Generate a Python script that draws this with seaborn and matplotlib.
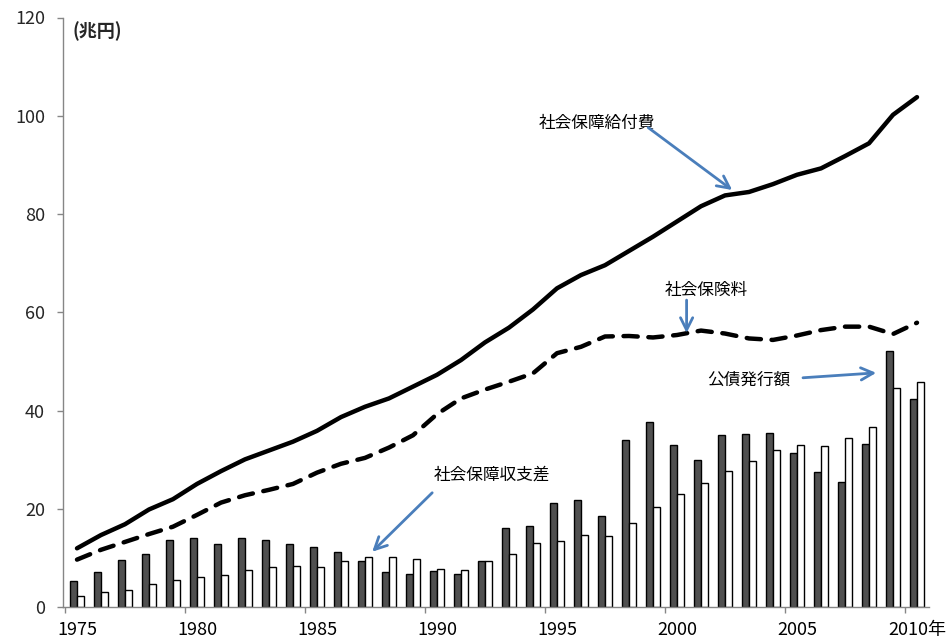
import numpy as np
import pandas as pd
import matplotlib
matplotlib.use("Agg")
import matplotlib.pyplot as plt
import seaborn as sns

years = list(range(1975, 2011))
# 社会保障給付費 (兆円)
benefits = [12.0, 14.7, 16.9, 19.9, 22.0, 25.1, 27.7, 30.1, 31.9, 33.7,
            35.9, 38.7, 40.8, 42.5, 44.9, 47.3, 50.3, 53.9, 56.9, 60.6,
            64.9, 67.6, 69.6, 72.5, 75.4, 78.5, 81.6, 83.8, 84.5, 86.1,
            88.0, 89.3, 91.8, 94.4, 100.2, 103.8]
# 社会保険料 (兆円)
contributions = [9.7, 11.7, 13.3, 14.9, 16.4, 18.8, 21.3, 22.8, 23.9, 25.1,
                 27.4, 29.2, 30.4, 32.5, 35.0, 39.3, 42.5, 44.3, 45.9, 47.6,
                 51.7, 53.0, 55.1, 55.2, 54.9, 55.4, 56.3, 55.7, 54.7, 54.4,
                 55.3, 56.4, 57.1, 57.1, 55.6, 57.9]
# 公債発行額 (兆円)
bonds = [5.3, 7.2, 9.6, 10.8, 13.6, 14.2, 12.9, 14.1, 13.6, 12.8,
         12.3, 11.3, 9.5, 7.2, 6.7, 7.3, 6.7, 9.5, 16.2, 16.5,
         21.2, 21.8, 18.6, 34.0, 37.6, 33.0, 30.0, 35.1, 35.3, 35.5,
         31.3, 27.5, 25.4, 33.3, 52.1, 42.4]
# 社会保障収支差 (兆円)
balance = [2.3, 3.2, 3.6, 4.8, 5.5, 6.2, 6.6, 7.6, 8.3, 8.5,
           8.1, 9.4, 10.2, 10.2, 9.8, 7.7, 7.6, 9.5, 10.9, 13.0,
           13.5, 14.8, 14.6, 17.1, 20.5, 23.1, 25.3, 27.7, 29.7, 32.1,
           33.1, 32.9, 34.5, 36.7, 44.6, 45.8]

label_years = [1975, 1980, 1985, 1990, 1995, 2000, 2005, 2010]
label_texts = ["1975", "1980", "1985", "1990", "1995", "2000", "2005", "2010年"]
y_ticks = [0, 20, 40, 60, 80, 100, 120]

sns.set_theme(style="white")
plt.rcParams["font.family"] = ["Noto Sans CJK JP", "DejaVu Sans"]

fig = plt.figure(figsize=(9.51, 6.44), dpi=100)
ax = fig.add_axes([63 / 951, 1 - 607.3 / 644, 866 / 951, (607.3 - 17.5) / 644])

year_str = [str(y) for y in years]
df = pd.DataFrame({
    "year": year_str * 2,
    "value": bonds + balance,
    "series": ["公債発行額"] * len(years) + ["社会保障収支差"] * len(years),
})
sns.barplot(data=df, x="year", y="value", hue="series", order=year_str,
            hue_order=["公債発行額", "社会保障収支差"],
            palette={"公債発行額": "#505050", "社会保障収支差": "white"},
            edgecolor="black", linewidth=1.0, width=0.62, legend=False,
            saturation=1, ax=ax)

pos = np.arange(len(years))
sns.lineplot(x=pos, y=benefits, color="black", linewidth=3.2,
             solid_capstyle="round", solid_joinstyle="round", ax=ax)
sns.lineplot(x=pos, y=contributions, color="black", linewidth=3.2,
             linestyle=(0, (3.2, 2.4)), dash_capstyle="round", ax=ax)

ax.set_xlim(-0.583, 35.5)
ax.set_ylim(0, 120)
ax.set_xlabel("")
ax.set_ylabel("")

major_pos = [years.index(y) for y in label_years]
ax.set_xticks(major_pos)
ax.set_xticklabels(label_texts, fontsize=13)
ax.set_xticks([p - 0.5 for p in major_pos], minor=True)
ax.tick_params(axis="x", which="major", length=0, pad=10, colors="black")
ax.tick_params(axis="x", which="minor", length=4.5, width=1, color="#868686",
               direction="out", bottom=True)
ax.set_yticks(y_ticks)
ax.set_yticklabels([str(v) for v in y_ticks], fontsize=13)
ax.tick_params(axis="y", which="major", length=4, width=1, color="#868686",
               direction="out", left=True, pad=9)

for s in ["top", "right"]:
    ax.spines[s].set_visible(False)
for s in ["left", "bottom"]:
    ax.spines[s].set_color("#868686")
    ax.spines[s].set_linewidth(1)

ax.text(-0.17, 117.3, "(兆円)", fontsize=13, fontweight="bold",
        ha="left", va="center")

arrow_color = "#4A7EBB"
def note(text, tx, ty, start, end):
    ax.text(tx, ty, text, fontsize=12, ha="center", va="center", color="black")
    ax.annotate("", xy=end, xytext=start,
                arrowprops=dict(arrowstyle="->", color=arrow_color, lw=2,
                                mutation_scale=22, shrinkA=0, shrinkB=0))

note("社会保障給付費", 21.67, 98.6, (23.8, 97.6), (27.3, 84.9))
note("社会保険料", 26.2, 64.4, (25.4, 62.5), (25.4, 55.8))
note("公債発行額", 28.0, 46.3, (30.25, 46.7), (33.3, 47.7))
note("社会保障収支差", 17.3, 26.9, (14.8, 23.3), (12.3, 11.3))

fig.savefig("out.png", dpi=100)
